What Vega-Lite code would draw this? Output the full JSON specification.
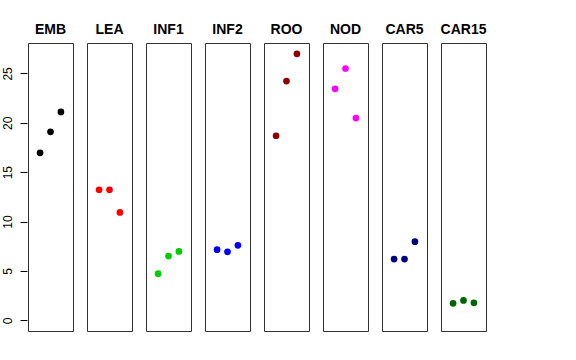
{
  "$schema": "https://vega.github.io/schema/vega-lite/v6.json",
  "background": "white",
  "padding": {"left": 0, "top": 23, "right": 5, "bottom": 5},
  "data": {
    "values": [
      {"tissue": "EMB", "rep": 1, "value": 16.96},
      {"tissue": "EMB", "rep": 2, "value": 19.09},
      {"tissue": "EMB", "rep": 3, "value": 21.1},
      {"tissue": "LEA", "rep": 1, "value": 13.22},
      {"tissue": "LEA", "rep": 2, "value": 13.22},
      {"tissue": "LEA", "rep": 3, "value": 10.93},
      {"tissue": "INF1", "rep": 1, "value": 4.72},
      {"tissue": "INF1", "rep": 2, "value": 6.51},
      {"tissue": "INF1", "rep": 3, "value": 6.98},
      {"tissue": "INF2", "rep": 1, "value": 7.15},
      {"tissue": "INF2", "rep": 2, "value": 6.94},
      {"tissue": "INF2", "rep": 3, "value": 7.59},
      {"tissue": "ROO", "rep": 1, "value": 18.69},
      {"tissue": "ROO", "rep": 2, "value": 24.22},
      {"tissue": "ROO", "rep": 3, "value": 26.98},
      {"tissue": "NOD", "rep": 1, "value": 23.44},
      {"tissue": "NOD", "rep": 2, "value": 25.5},
      {"tissue": "NOD", "rep": 3, "value": 20.48},
      {"tissue": "CAR5", "rep": 1, "value": 6.2},
      {"tissue": "CAR5", "rep": 2, "value": 6.2},
      {"tissue": "CAR5", "rep": 3, "value": 7.96},
      {"tissue": "CAR15", "rep": 1, "value": 1.72},
      {"tissue": "CAR15", "rep": 2, "value": 2.02},
      {"tissue": "CAR15", "rep": 3, "value": 1.78}
    ]
  },
  "facet": {
    "column": {
      "field": "tissue",
      "type": "nominal",
      "sort": ["EMB", "LEA", "INF1", "INF2", "ROO", "NOD", "CAR5", "CAR15"],
      "title": null,
      "header": {
        "labelFont": "Liberation Sans",
        "labelFontSize": 14,
        "labelFontWeight": "bold",
        "labelColor": "black",
        "labelBaseline": "alphabetic",
        "labelPadding": -6
      }
    }
  },
  "spacing": 12,
  "spec": {
    "width": 45,
    "height": 288,
    "mark": {"type": "point", "filled": true, "size": 45, "opacity": 1},
    "encoding": {
      "x": {
        "field": "rep",
        "type": "quantitative",
        "scale": {"domain": [-0.16, 4.16], "nice": false, "zero": false},
        "axis": null
      },
      "y": {
        "field": "value",
        "type": "quantitative",
        "scale": {"domain": [-1.08, 28.08], "nice": false, "zero": false},
        "axis": {
          "title": null,
          "values": [0, 5, 10, 15, 20, 25],
          "grid": false,
          "domain": false,
          "tickSize": 7,
          "tickColor": "black",
          "labelAngle": -90,
          "labelFont": "Liberation Sans",
          "labelFontSize": 12,
          "labelColor": "black",
          "labelPadding": 5.5,
          "minExtent": 27,
          "maxExtent": 27
        }
      },
      "color": {
        "field": "tissue",
        "type": "nominal",
        "scale": {
          "domain": ["EMB", "LEA", "INF1", "INF2", "ROO", "NOD", "CAR5", "CAR15"],
          "range": ["#000000", "#FF0000", "#00CD00", "#0000FF", "#8B0000", "#FF00FF", "#000080", "#006400"]
        },
        "legend": null
      }
    }
  },
  "config": {
    "view": {"stroke": "#333333", "strokeWidth": 1}
  }
}
